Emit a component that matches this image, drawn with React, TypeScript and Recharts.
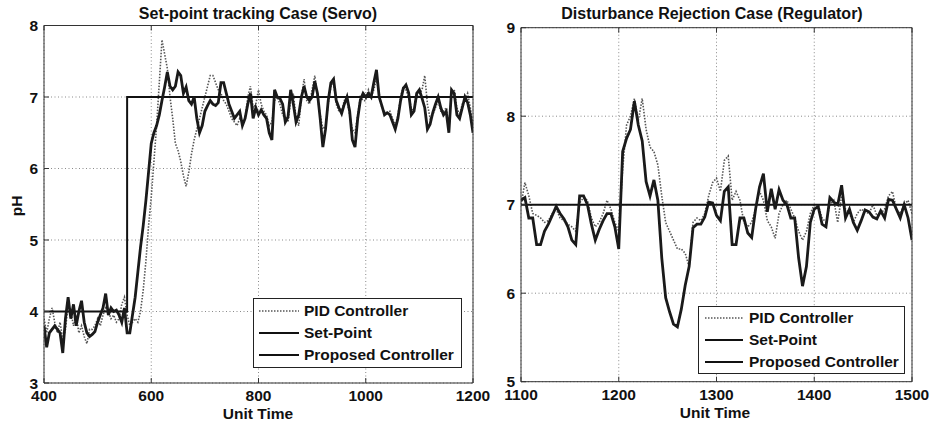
import React from "react";
import { LineChart, Line, XAxis, YAxis, CartesianGrid, Legend } from "recharts";

const FONT = '"Liberation Sans", Arial, Helvetica, sans-serif';

// Left panel: set-point tracking (servo), sampled every 5 time units from 400
const servoStart = 400;
const servoStep = 5;
const servoPid = [
  3.9, 3.7, 3.9, 4.05, 3.85, 3.7, 3.85, 3.6, 3.75, 4.1,
  4.0, 3.8, 3.95, 3.7, 3.8, 3.65, 3.55, 3.75, 3.75, 3.8,
  3.9, 3.8, 3.95, 4.05, 4.0, 3.9, 3.95, 3.85, 3.9, 4.1,
  4.2, 3.95, 3.8, 3.85, 3.9, 3.85, 4.0, 4.3, 4.7, 5.2,
  5.6, 6.1, 6.6, 7.2, 7.8, 7.6, 7.4, 7.0, 6.7, 6.35,
  6.25, 6.1, 5.9, 5.75, 5.95, 6.2, 6.4, 6.55, 6.7, 6.85,
  7.0, 7.15, 7.3, 7.3, 7.2, 7.1, 7.05, 6.95, 6.9, 6.8,
  6.7, 6.65, 6.6, 6.7, 6.65, 6.7, 7.0, 7.15, 6.85, 6.9,
  7.1, 6.9, 6.8, 6.75, 6.6, 6.65, 6.95, 7.0, 6.9, 6.75,
  6.7, 6.65, 6.95, 7.05, 6.7, 6.6, 7.0, 7.25, 6.95, 6.9,
  7.1, 7.3, 7.0, 6.75, 6.55, 6.6, 6.9, 7.15, 7.2, 6.9,
  6.8, 6.8, 6.95, 6.95, 6.75, 6.55, 6.5, 6.75, 7.0, 6.95,
  6.95, 7.1, 7.0, 7.1, 7.25, 7.05, 6.85, 6.8, 6.75, 6.8,
  6.7, 6.6, 6.75, 7.0, 7.15, 7.1, 7.0, 6.85, 6.8, 7.0,
  7.05, 7.1, 7.3, 6.9, 6.7, 6.75, 6.85, 6.95, 6.8, 6.8,
  6.85, 6.6, 7.05, 7.1, 6.85, 6.75, 6.9, 6.95, 7.05, 6.85,
  6.6,
];
const servoProposed = [
  3.8, 3.5, 3.7, 3.75, 3.8, 3.75, 3.7, 3.42, 3.9, 4.2,
  3.9, 4.1, 3.8, 4.0, 4.15, 3.85, 3.7, 3.65, 3.68, 3.72,
  3.85, 3.95, 4.05, 4.25, 3.95, 4.05, 4.0, 4.02, 3.95, 3.85,
  4.05, 3.7, 3.7, 3.95, 4.2, 4.55, 4.9, 5.2, 5.55, 5.95,
  6.35, 6.5, 6.6, 6.75, 6.95, 7.14, 7.35, 7.15, 7.1, 7.15,
  7.35, 7.3, 7.05, 7.14, 6.95, 6.9, 7.0, 6.7, 6.5, 6.6,
  6.8, 6.88, 6.95, 6.9, 6.88, 6.92, 7.2, 7.2, 7.05, 6.9,
  6.8, 6.7, 6.75, 6.8, 6.6, 6.7, 6.9, 7.05, 6.7, 6.85,
  6.75, 6.82, 6.75, 6.7, 6.5, 6.4, 7.1, 7.0, 6.98, 6.9,
  6.65, 6.72, 7.1, 6.9, 6.65, 6.75, 7.0, 7.15, 7.0, 6.95,
  7.0, 7.22, 7.05, 6.7, 6.3, 6.55, 6.95, 7.2, 7.25, 6.95,
  6.85, 6.77, 6.9, 7.0, 6.8, 6.4, 6.3, 6.7, 6.96, 7.05,
  7.0, 7.05, 7.0, 7.2, 7.38, 7.0, 6.88, 6.75, 6.78, 6.75,
  6.65, 6.55, 6.7, 6.95, 7.12, 7.17, 7.06, 6.75, 6.8, 7.05,
  7.1, 6.98, 6.85, 6.55, 6.62, 6.78, 6.9, 7.0, 6.85, 6.75,
  6.8, 6.5, 7.1, 7.05, 6.75, 6.7, 6.85, 7.0, 6.92, 6.75,
  6.5,
];
const servoSetPointTime = [400, 555, 1200];
const servoSetPointValue = [4, 7, 7];
const servoXTicks = [400, 600, 800, 1000, 1200];
const servoYTicks = [3, 4, 5, 6, 7, 8];

// Right panel: disturbance rejection (regulator), sampled every 4 time units from 1100
const regStart = 1100;
const regStep = 4;
const regPid = [
  7.0, 7.25, 7.1, 6.9, 6.88, 6.85, 6.8, 6.82, 6.9, 6.95,
  6.85, 6.82, 6.78, 6.75, 6.7, 7.02, 7.08, 7.05, 6.85, 6.75,
  6.8, 6.9, 7.05, 6.95, 6.8, 6.7, 7.4, 7.9, 8.0, 8.2,
  7.95, 8.2, 7.85, 7.65, 7.6, 7.45, 7.1, 6.8, 6.7, 6.6,
  6.5, 6.5, 6.45, 6.3, 6.8, 6.85, 6.82, 6.9, 7.1, 7.25,
  7.3, 7.15, 7.5, 7.55, 7.05, 7.15, 7.05, 6.8, 6.75, 6.8,
  6.95, 7.15, 7.05, 6.82, 6.75, 6.62, 6.9, 7.0, 7.05, 6.95,
  6.85, 6.7, 6.6, 6.7, 6.9, 7.0, 7.0, 6.85, 6.8, 7.0,
  7.05, 6.8, 7.1, 6.95, 6.9, 6.8, 6.9, 6.95, 6.92, 6.9,
  7.0, 6.88, 6.9, 6.95, 7.1, 7.15, 6.95, 6.9, 7.0, 7.05,
  6.9,
];
const regProposed = [
  7.05, 7.08, 6.85, 6.85, 6.55, 6.55, 6.7, 6.78, 6.88, 6.98,
  6.9, 6.84, 6.75, 6.6, 6.55, 7.1, 7.1, 7.0, 6.78, 6.6,
  6.72, 6.82, 6.9, 6.9, 6.75, 6.5, 7.6, 7.75, 7.85, 8.17,
  7.9, 7.72, 7.26, 7.1, 7.28, 7.05, 6.4, 5.95, 5.79, 5.65,
  5.62, 5.82, 6.09, 6.3, 6.74, 6.78, 6.78, 6.86, 7.03, 7.02,
  6.88, 6.82, 7.15, 7.2, 6.55, 6.55, 6.85, 6.85, 6.68, 6.63,
  6.95, 7.2, 7.35, 6.92, 7.18, 6.95, 7.17, 7.05, 7.0, 6.85,
  6.85, 6.4, 6.08, 6.3, 6.8, 6.95, 6.98, 6.78, 6.75, 7.08,
  7.03, 7.0, 7.22, 6.85, 6.95, 6.8, 6.71, 6.82, 6.94, 6.92,
  6.86, 6.84, 6.93, 6.85, 7.06, 7.05, 6.95, 6.85, 7.0, 6.85,
  6.6,
];
const regSetPointTime = [1100, 1500];
const regSetPointValue = [7, 7];
const regXTicks = [1100, 1200, 1300, 1400, 1500];
const regYTicks = [5, 6, 7, 8, 9];

const legendItems = [
  { label: "PID Controller", dash: "1.5 1.5", color: "#555", width: 1.6 },
  { label: "Set-Point", dash: undefined, color: "#111", width: 2 },
  { label: "Proposed Controller", dash: undefined, color: "#111", width: 2 },
];

const tickStyle = { fill: "#111", fontSize: 15.5, fontWeight: 700, fontFamily: FONT };
const axisStroke = { stroke: "#333" };
const noLabel = () => "";

function LegendBox({ width, height, sampleLeft, sampleWidth, textLeft, padTop }) {
  return (
    <div
      style={{
        width,
        height,
        boxSizing: "border-box",
        border: "1px solid #222",
        background: "#fff",
        paddingTop: padTop,
        fontFamily: FONT,
        fontWeight: 700,
        fontSize: 15.5,
        color: "#111",
      }}
    >
      {legendItems.map((it) => (
        <div key={it.label} style={{ position: "relative", height: 22, lineHeight: "22px" }}>
          <svg
            width={sampleWidth}
            height={6}
            style={{ position: "absolute", left: sampleLeft, top: 8 }}
          >
            <line
              x1={0}
              y1={3}
              x2={sampleWidth}
              y2={3}
              stroke={it.color}
              strokeWidth={it.width}
              strokeDasharray={it.dash}
            />
          </svg>
          <span style={{ position: "absolute", left: textLeft, top: 0, whiteSpace: "nowrap" }}>
            {it.label}
          </span>
        </div>
      ))}
    </div>
  );
}

function Label({ x, y, text, size = 15.5, rotate = 0 }) {
  return (
    <div
      style={{
        position: "absolute",
        left: x,
        top: y,
        transform: `translate(-50%, -50%) rotate(${rotate}deg)`,
        fontFamily: FONT,
        fontWeight: 700,
        fontSize: size,
        lineHeight: 1,
        color: "#111",
        whiteSpace: "nowrap",
      }}
    >
      {text}
    </div>
  );
}

function Panel({ left, width, box, start, step, pid, proposed, spTime, spValue, xTicks, yTicks, legend }) {
  const data = pid.map((p, i) => ({ t: start + i * step, pid: p, proposed: proposed[i] }));
  const setPoint = spTime.map((t, i) => ({ t, sp: spValue[i] }));
  const xDomain = [xTicks[0], xTicks[xTicks.length - 1]];
  const yDomain = [yTicks[0], yTicks[yTicks.length - 1]];
  return (
    <div style={{ position: "absolute", left, top: 0 }}>
      <LineChart width={width} height={424} data={data} margin={{ top: 0, right: 0, bottom: 0, left: 0 }}>
        <CartesianGrid stroke="#8a8a8a" strokeDasharray="1 2.5" />
        <XAxis
          dataKey="t"
          type="number"
          domain={xDomain}
          ticks={xTicks}
          interval={0}
          height={box.bottom}
          tickSize={-5}
          tickMargin={12}
          tickLine={axisStroke}
          axisLine={axisStroke}
          tick={tickStyle}
          allowDataOverflow
        />
        <XAxis
          xAxisId="top"
          orientation="top"
          dataKey="t"
          type="number"
          domain={xDomain}
          ticks={xTicks}
          interval={0}
          height={box.top}
          tickSize={-5}
          tickFormatter={noLabel}
          tickLine={axisStroke}
          axisLine={axisStroke}
        />
        <YAxis
          type="number"
          domain={yDomain}
          ticks={yTicks}
          interval={0}
          width={box.left}
          tickSize={-5}
          tickMargin={11}
          tickLine={axisStroke}
          axisLine={axisStroke}
          tick={tickStyle}
          allowDataOverflow
        />
        <YAxis
          yAxisId="right"
          orientation="right"
          type="number"
          domain={yDomain}
          ticks={yTicks}
          interval={0}
          width={box.right}
          tickSize={-5}
          tickFormatter={noLabel}
          tickLine={axisStroke}
          axisLine={axisStroke}
        />
        <Line
          dataKey="pid"
          type="linear"
          stroke="#555"
          strokeWidth={1.6}
          strokeDasharray="1.5 1.5"
          dot={false}
          isAnimationActive={false}
        />
        <Line
          data={setPoint}
          dataKey="sp"
          type="stepAfter"
          stroke="#111"
          strokeWidth={2}
          dot={false}
          isAnimationActive={false}
        />
        <Line
          dataKey="proposed"
          type="linear"
          stroke="#1a1a1a"
          strokeWidth={2.8}
          dot={false}
          isAnimationActive={false}
        />
        <Legend
          layout="vertical"
          align="center"
          verticalAlign="middle"
          wrapperStyle={{ left: legend.left, top: legend.top, width: legend.width, height: legend.height, bottom: "auto", right: "auto" }}
          content={() => <LegendBox {...legend} />}
        />
      </LineChart>
    </div>
  );
}

export default function App() {
  return (
    <div
      style={{
        position: "absolute",
        left: 0,
        top: 0,
        width: 930,
        height: 424,
        background: "#fff",
        overflow: "hidden",
      }}
    >
      <Panel
        left={0}
        width={496}
        box={{ top: 25.5, right: 23, bottom: 41, left: 44 }}
        start={servoStart}
        step={servoStep}
        pid={servoPid}
        proposed={servoProposed}
        spTime={servoSetPointTime}
        spValue={servoSetPointValue}
        xTicks={servoXTicks}
        yTicks={servoYTicks}
        legend={{ left: 253, top: 298, width: 209, height: 70, sampleLeft: 5, sampleWidth: 40, textLeft: 50, padTop: 1 }}
      />
      <Panel
        left={470}
        width={460}
        box={{ top: 27.7, right: 18, bottom: 42.3, left: 51 }}
        start={regStart}
        step={regStep}
        pid={regPid}
        proposed={regProposed}
        spTime={regSetPointTime}
        spValue={regSetPointValue}
        xTicks={regXTicks}
        yTicks={regYTicks}
        legend={{ left: 228, top: 306, width: 207, height: 68, sampleLeft: 6, sampleWidth: 38, textLeft: 50, padTop: 0 }}
      />
      <Label x={258} y={13.5} text="Set-point tracking Case (Servo)" size={16} />
      <Label x={712} y={14} text="Disturbance Rejection Case (Regulator)" size={16} />
      <Label x={258} y={414} text="Unit Time" />
      <Label x={715} y={413} text="Unit Time" />
      <Label x={17} y={206} text="pH" rotate={-90} />
    </div>
  );
}
